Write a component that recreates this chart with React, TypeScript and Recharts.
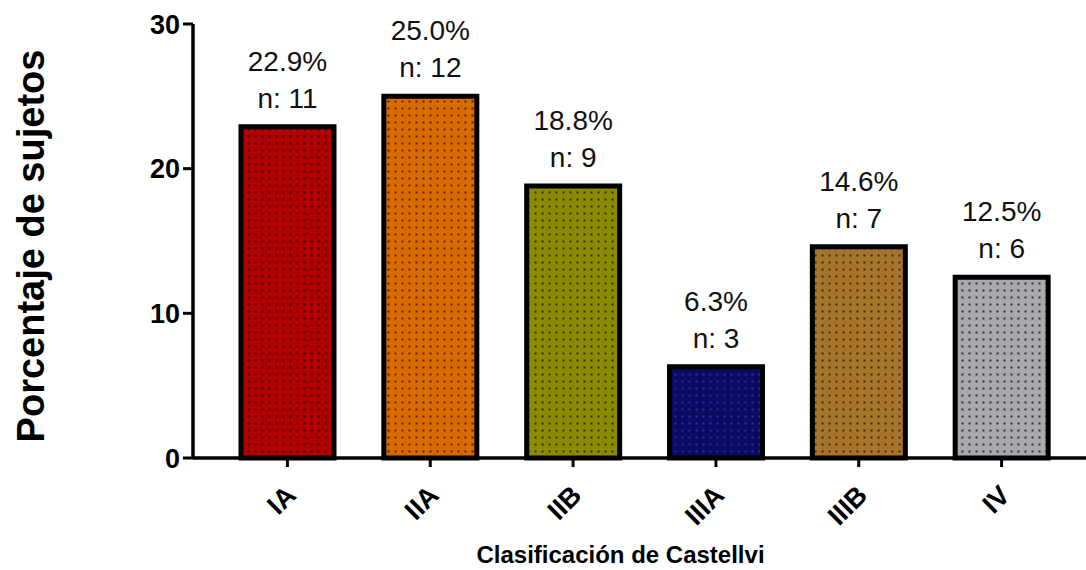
import React from 'react';
import { BarChart, Bar, XAxis, YAxis, Cell, LabelList, Label } from 'recharts';

const categories = ['IA', 'IIA', 'IIB', 'IIIA', 'IIIB', 'IV'];
const percentages = [22.9, 25.0, 18.8, 6.3, 14.6, 12.5];
const counts = [11, 12, 9, 3, 7, 6];
const yTicks = [0, 10, 20, 30];

const fills = ['#b10000', '#d86a00', '#8c8a00', '#0b0b62', '#a6742a', '#a9a9ad'];
const dots = ['#3c0000', '#5a2600', '#2e2e00', '#2a2ab4', '#4a2800', '#333333'];

const data = categories.map((name, i) => ({ name, pct: percentages[i], n: counts[i] }));

const FONT = '"Liberation Sans", Arial, sans-serif';

const XTick = (props: any) => {
    const { x, y, payload } = props;
    return (
        <g transform={`translate(${x + 10},${y + 28})`}>
            <text
                transform="rotate(-45)"
                textAnchor="end"
                fontFamily={FONT}
                fontWeight="bold"
                fontSize={27}
                fill="#000"
            >
                {payload.value}
            </text>
        </g>
    );
};

const BarLabel = (props: any) => {
    const { x, y, width, index } = props;
    const cx = x + width / 2;
    return (
        <g fontFamily={FONT} fontSize={28} fill="#111" textAnchor="middle">
            <text x={cx} y={y - 56}>{`${percentages[index].toFixed(1)}%`}</text>
            <text x={cx} y={y - 19}>{`n: ${counts[index]}`}</text>
        </g>
    );
};

const App: React.FC = () => {
    return (
        <div style={{ position: 'absolute', left: 0, top: 0, width: 1086, height: 570, background: '#fff' }}>
            <svg width={0} height={0} style={{ position: 'absolute' }}>
                <defs>
                    {fills.map((c, i) => (
                        <pattern key={`p-${i}`} id={`dots-${i}`} width={7} height={7} patternUnits="userSpaceOnUse">
                            <rect width={7} height={7} fill={c} />
                            <rect x={2.5} y={2.5} width={2} height={2} fill={dots[i]} />
                        </pattern>
                    ))}
                </defs>
            </svg>
            <BarChart
                width={1086}
                height={570}
                data={data}
                margin={{ top: 24, right: 0, bottom: 0, left: 0 }}
                barSize={93}
            >
                <XAxis
                    dataKey="name"
                    height={112}
                    padding={{ left: 23, right: 13 }}
                    axisLine={{ stroke: '#000', strokeWidth: 3.5 }}
                    tickLine={{ stroke: '#000', strokeWidth: 3 }}
                    tickSize={9}
                    tickMargin={2}
                    tick={<XTick />}
                    interval={0}
                >
                    <Label
                        content={(p: any) => {
                            const vb = p.viewBox;
                            return (
                                <text
                                    x={vb.x + vb.width / 2 - 19}
                                    y={563}
                                    textAnchor="middle"
                                    fontFamily={FONT}
                                    fontWeight="bold"
                                    fontSize={24}
                                    fill="#000"
                                >
                                    Clasificación de Castellvi
                                </text>
                            );
                        }}
                    />
                </XAxis>
                <YAxis
                    width={193}
                    domain={[0, 30]}
                    ticks={yTicks}
                    axisLine={{ stroke: '#000', strokeWidth: 3.5 }}
                    tickLine={{ stroke: '#000', strokeWidth: 3 }}
                    tickSize={10}
                    tickMargin={3}
                    tick={{ fill: '#000', fontFamily: FONT, fontWeight: 'bold', fontSize: 27 }}
                >
                    <Label
                        content={(p: any) => {
                            const vb = p.viewBox;
                            const cy = vb.y + vb.height / 2 + 5;
                            return (
                                <text
                                    x={44}
                                    y={cy}
                                    transform={`rotate(-90, 44, ${cy})`}
                                    textAnchor="middle"
                                    fontFamily={FONT}
                                    fontWeight="bold"
                                    fontSize={38}
                                    fill="#000"
                                >
                                    Porcentaje de sujetos
                                </text>
                            );
                        }}
                    />
                </YAxis>
                <Bar dataKey="pct" stroke="#000" strokeWidth={5} isAnimationActive={false}>
                    {data.map((entry, index) => (
                        <Cell key={`cell-${index}`} fill={`url(#dots-${index})`} />
                    ))}
                    <LabelList dataKey="pct" content={<BarLabel />} />
                </Bar>
            </BarChart>
        </div>
    );
};

export default App;
